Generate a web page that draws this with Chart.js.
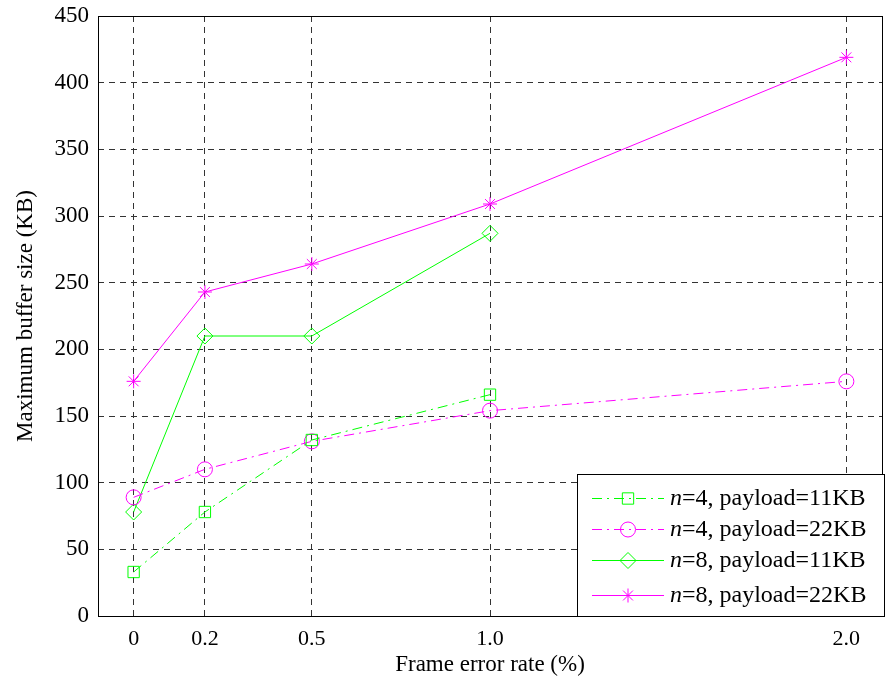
<!DOCTYPE html>
<html lang="en">
<head>
<meta charset="UTF-8">
<title>Maximum buffer size</title>
<script src="https://cdn.jsdelivr.net/npm/chart.js"></script>
<style>
  html, body { margin: 0; padding: 0; background: #fff; }
  #wrap { width: 891px; height: 683px; }
</style>
</head>
<body>
<div id="wrap"><canvas id="bufChart" width="891" height="683"></canvas></div>
<script>
// frame error rate (%) and tick labels
const xTicks = [0, 0.2, 0.5, 1.0, 2.0];
const xTickLabels = ['0', '0.2', '0.5', '1.0', '2.0'];

// values (KB)
const n4p11 = [33, 78, 132, 166];
const n4p22 = [89, 110, 131, 154, 176];
const n8p11 = [78, 210, 210, 287];
const n8p22 = [176, 243, 264, 309, 419];

const legendLabels = ['=4, payload=11KB', '=4, payload=22KB', '=8, payload=11KB', '=8, payload=22KB'];

const GREEN = '#00ff00';
const MAGENTA = '#ff00ff';
const serif = '"Liberation Serif", "DejaVu Serif", serif';

function pts(vals) {
  return vals.map((v, i) => ({ x: xTicks[i], y: v }));
}

// box around the plot + legend in the lower right corner
const boxLegend = {
  id: 'boxLegend',
  afterDraw(chart) {
    const { ctx, chartArea: a } = chart;
    ctx.save();
    ctx.strokeStyle = '#000';
    ctx.lineWidth = 1;
    ctx.strokeRect(a.left + 0.5, a.top + 0.5, a.right - a.left, a.bottom - a.top);

    const bx = 577, by = 474, bw = 307, bh = 142;
    ctx.fillStyle = '#fff';
    ctx.fillRect(bx, by, bw, bh);
    ctx.strokeRect(bx + 0.5, by + 0.5, bw, bh);

    const rows = [498, 529, 560, 595];
    chart.data.datasets.forEach((ds, i) => {
      const y = rows[i];
      ctx.strokeStyle = ds.borderColor;
      ctx.lineWidth = 1;
      ctx.setLineDash(ds.borderDash || []);
      ctx.beginPath();
      ctx.moveTo(592, y + 0.5);
      ctx.lineTo(664, y + 0.5);
      ctx.stroke();
      ctx.setLineDash([]);
      ctx.fillStyle = 'rgba(0,0,0,0)';
      Chart.helpers.drawPoint(ctx, {
        pointStyle: ds.pointStyle,
        radius: ds.pointRadius,
        rotation: 0,
        borderWidth: 1
      }, 628, y + 0.5);

      ctx.fillStyle = '#000';
      ctx.textBaseline = 'middle';
      ctx.font = 'italic 24px ' + serif;
      ctx.fillText('n', 670, y + 1);
      const w = ctx.measureText('n').width;
      ctx.font = '24px ' + serif;
      ctx.fillText(legendLabels[i], 670 + w, y + 1);
    });
    ctx.restore();
  }
};

const gridDash = [6, 5];

new Chart(document.getElementById('bufChart'), {
  type: 'line',
  data: {
    datasets: [
      {
        label: 'n=4, payload=11KB',
        data: pts(n4p11),
        borderColor: GREEN,
        backgroundColor: 'transparent',
        borderWidth: 1,
        borderDash: [10, 5, 2, 5],
        pointStyle: 'rect',
        pointRadius: 8,
        pointBorderColor: GREEN,
        pointBackgroundColor: 'transparent'
      },
      {
        label: 'n=4, payload=22KB',
        data: pts(n4p22),
        borderColor: MAGENTA,
        backgroundColor: 'transparent',
        borderWidth: 1,
        borderDash: [10, 5, 2, 5],
        pointStyle: 'circle',
        pointRadius: 7.5,
        pointBorderColor: MAGENTA,
        pointBackgroundColor: 'transparent'
      },
      {
        label: 'n=8, payload=11KB',
        data: pts(n8p11),
        borderColor: GREEN,
        backgroundColor: 'transparent',
        borderWidth: 1,
        pointStyle: 'rectRot',
        pointRadius: 8,
        pointBorderColor: GREEN,
        pointBackgroundColor: 'transparent'
      },
      {
        label: 'n=8, payload=22KB',
        data: pts(n8p22),
        borderColor: MAGENTA,
        backgroundColor: 'transparent',
        borderWidth: 1,
        pointStyle: 'star',
        pointRadius: 7,
        pointBorderColor: MAGENTA,
        pointBackgroundColor: 'transparent'
      }
    ]
  },
  options: {
    responsive: false,
    animation: false,
    layout: { padding: { top: 16, right: 7, left: 0, bottom: 0 } },
    plugins: {
      legend: { display: false },
      tooltip: { enabled: false }
    },
    elements: { line: { tension: 0 } },
    scales: {
      x: {
        type: 'linear',
        min: -0.1,
        max: 2.1,
        afterBuildTicks(axis) {
          axis.ticks = xTicks.map(v => ({ value: v }));
        },
        afterFit(axis) {
          axis.height = 67;
          axis.paddingLeft = 0;
          axis.paddingRight = 0;
        },
        ticks: {
          color: '#000',
          font: { family: serif, size: 22 },
          padding: 10,
          callback: (v) => {
            const i = xTicks.indexOf(v);
            return i >= 0 ? xTickLabels[i] : '';
          }
        },
        grid: { color: '#333', tickLength: 0, drawTicks: false },
        border: { display: false, dash: gridDash },
        title: {
          display: true,
          text: 'Frame error rate (%)',
          color: '#000',
          font: { family: serif, size: 23 },
          padding: { top: 0 }
        }
      },
      y: {
        min: 0,
        max: 450,
        afterFit(axis) {
          axis.width = 98;
          axis.paddingTop = 0;
          axis.paddingBottom = 0;
        },
        ticks: {
          stepSize: 50,
          color: '#000',
          font: { family: serif, size: 23 },
          padding: 9
        },
        grid: { color: '#333', drawTicks: false },
        border: { display: false, dash: gridDash },
        title: {
          display: true,
          text: 'Maximum buffer size (KB)',
          color: '#000',
          font: { family: serif, size: 23 },
          padding: { top: 12, bottom: 0 }
        }
      }
    }
  },
  plugins: [boxLegend]
});
</script>
</body>
</html>
